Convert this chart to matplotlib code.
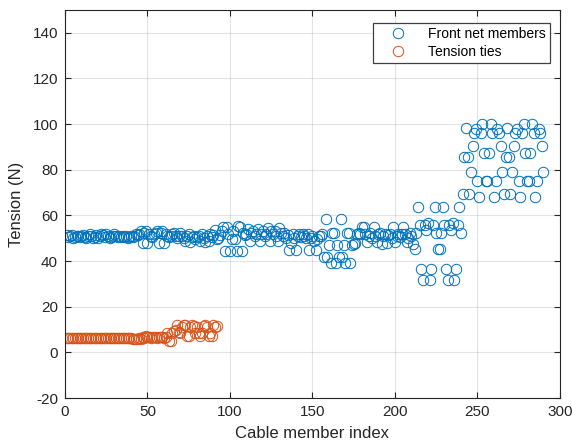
import numpy as np
import matplotlib
matplotlib.use("Agg")
import matplotlib.pyplot as plt

plt.rcParams['font.family'] = ['Liberation Sans', 'DejaVu Sans']
plt.rcParams['axes.unicode_minus'] = False

# tension in front net members, index 1..290
front_net = [
    51.5, 50.5, 51, 51.5, 50, 50.5, 51, 51, 50.5, 51,
    51.5, 50.5, 50, 51, 52, 51, 50, 50.5, 51.5, 50,
    51, 52, 51.5, 50.5, 52, 51, 50, 50.5, 51, 52,
    51, 50.5, 51, 50.5, 51, 50.5, 51, 50, 50.5, 51,
    50.5, 51, 52, 51.5, 52, 53, 48, 52.5, 53, 48,
    52, 51, 50.5, 52, 52.5, 53, 48, 52.5, 53, 48,
    52, 51, 50.5, 51, 52, 52.5, 51, 50, 51, 52.5,
    51, 50, 49, 51, 52, 48.5, 50.5, 51, 49.5, 50.5,
    51, 49, 52, 50, 48.5, 51, 49, 52, 50.5, 51.5,
    53.5, 49.5, 50, 51.5, 53, 55, 44.5, 55, 52, 44.5,
    49.5, 53, 49.5, 44.5, 55.5, 55, 44.5, 52.5, 51.5, 52,
    54, 49, 52.5, 53, 51, 52, 54, 49, 52, 53,
    51, 52, 54.5, 49, 53, 52, 53, 51, 49, 54.5,
    52.5, 51, 52.5, 50, 51.5, 45, 48, 52, 50, 45,
    51, 52, 50.5, 52, 51, 50, 52, 45, 50, 51,
    49, 45, 49.5, 51, 51, 52, 42, 58.5, 42, 47,
    39, 52.5, 52.5, 39, 47, 42, 58.5, 42, 47, 39,
    52.5, 52.5, 39, 47, 47.5, 48, 52, 52.5, 52, 55,
    55, 52, 48.5, 51, 52.5, 50, 55, 51, 48.5, 52,
    52.5, 47.5, 51, 52, 48, 51.5, 52, 50, 55, 48.5,
    51, 52, 50.5, 52, 55, 52, 48.5, 50, 52.5, 51,
    47.5, 45.5, 52.5, 63.5, 56, 36.5, 31.5, 56, 53.5, 56.5,
    31.5, 36.5, 56, 63.5, 52.5, 45.5, 45.5, 52.5, 63.5, 56,
    36.5, 31.5, 56, 53.5, 56.5, 31.5, 36.5, 56, 63.5, 52.5,
    69.5, 85.5, 98.5, 85.5, 69.5, 79, 90.5, 96, 98, 75,
    68, 96, 100, 87.5, 75, 75, 87.5, 100, 96, 68,
    75, 98, 96, 90.5, 79, 69.5, 85.5, 98.5, 85.5, 69.5,
    79, 90.5, 96, 98, 75, 68, 96, 100, 87.5, 75,
    75, 87.5, 100, 96, 68, 75, 98, 96, 90.5, 79,
]

# tension in tension ties, index 1..92
tension_ties = [
    6.3, 6.4, 6.2, 6.3, 6.3, 6.4, 6.2, 6.3, 6.3, 6.4,
    6.2, 6.3, 6.3, 6.4, 6.2, 6.3, 6.3, 6.4, 6.2, 6.3,
    6.3, 6.4, 6.2, 6.3, 6.3, 6.4, 6.2, 6.3, 6.3, 6.4,
    6.2, 6.3, 6.3, 6.4, 6.2, 6.3, 6.3, 6.4, 6.2, 6.3,
    5.8, 6.0, 5.7, 5.9, 6.2, 6.0, 6.8, 6.5, 7.0, 6.6,
    6.8, 6.5, 6.9, 6.6, 6.8, 6.5, 6.9, 6.6, 6.8, 6.5,
    6.9, 8.5, 5.0, 5.0, 8.5, 9.5, 10, 12, 9, 8.5,
    11, 12, 12, 7, 7, 11, 12, 11.5, 8.5, 11,
    8.5, 7, 8.5, 11.5, 12, 11, 7, 8.5, 7, 12,
    11, 11.5,
]

idx_front = np.arange(1, len(front_net) + 1)
idx_ties = np.arange(1, len(tension_ties) + 1)

fig = plt.figure(figsize=(5.72, 4.47), dpi=100)
ax = fig.add_axes([0.1136, 0.1096, 0.8654, 0.868])

ax.plot(idx_front, front_net, 'o', mfc='none', mec='#0072BD', ms=7.5, mew=0.7,
        label='Front net members')
ax.plot(idx_ties, tension_ties, 'o', mfc='none', mec='#D95319', ms=7.5, mew=0.7,
        label='Tension ties')

ax.set_xlim(0, 300)
ax.set_ylim(-20, 150)
ax.set_xticks(range(0, 301, 50))
ax.set_yticks(range(-20, 141, 20))
ax.grid(True, color='#262626', alpha=0.12, lw=0.8)
ax.set_axisbelow(True)
ax.tick_params(direction='in', top=True, right=True, length=4, width=0.8,
               colors='#262626', labelsize=11, pad=5)
for s in ax.spines.values():
    s.set_color('#262626')
    s.set_linewidth(0.8)

ax.set_xlabel('Cable member index', fontsize=12, color='#262626', labelpad=5)
ax.set_ylabel('Tension (N)', fontsize=12, color='#262626', labelpad=6)

leg = ax.legend(loc='upper right', fontsize=10, fancybox=False, framealpha=1,
                edgecolor='#404040', borderpad=0.3, labelspacing=0.3,
                handlelength=3.0, handletextpad=0.6,
                bbox_to_anchor=(0.993, 0.985))
leg.get_frame().set_linewidth(0.9)

fig.savefig('out.png', dpi=100)
